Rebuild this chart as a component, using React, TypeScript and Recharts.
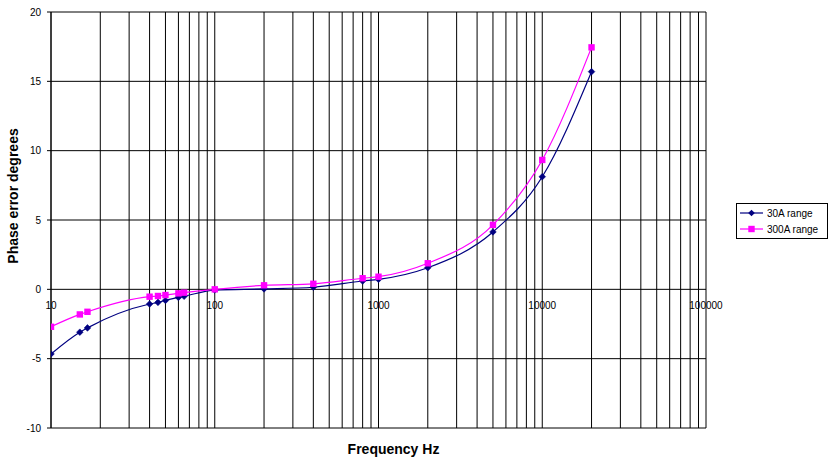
import React from "react";
import { LineChart, Line, XAxis, YAxis, CartesianGrid, ReferenceDot, ReferenceLine } from "recharts";

const freqs = [10, 15, 16.7, 40, 45, 50, 60, 65, 100, 200, 400, 800, 1000, 2000, 5000, 10000, 20000];
const range30A = [-4.66, -3.09, -2.78, -1.06, -0.94, -0.8, -0.58, -0.5, -0.05, 0.03, 0.15, 0.6, 0.72, 1.56, 4.14, 8.12, 15.7];
const range300A = [-2.7, -1.81, -1.62, -0.53, -0.48, -0.41, -0.29, -0.24, 0, 0.29, 0.4, 0.8, 0.91, 1.88, 4.65, 9.33, 17.45];

const gridFreqs = [
  10, 20, 30, 40, 50, 60, 70, 80, 90,
  100, 200, 300, 400, 500, 600, 700, 800, 900,
  1000, 2000, 3000, 4000, 5000, 6000, 7000, 8000, 9000,
  10000, 20000, 30000, 40000, 50000, 60000, 70000, 80000, 90000,
  100000,
];
const decadeLabels = [10, 100, 1000, 10000, 100000];
const yTicks = [-10, -5, 0, 5, 10, 15, 20];

const NAVY = "#000080";
const MAGENTA = "#ff00ff";
const FONT = "Arial, 'Liberation Sans', sans-serif";

const data = freqs.map((f, i) => ({ f, a30: range30A[i], a300: range300A[i] }));

const Diamond = (props: any) => {
  const { cx, cy, fill } = props;
  if (cx == null || cy == null) return null;
  const s = 3.3;
  return <polygon points={`${cx},${cy - s} ${cx + s},${cy} ${cx},${cy + s} ${cx - s},${cy}`} fill={fill} stroke={fill} strokeWidth={0.6} />;
};

const Square = (props: any) => {
  const { cx, cy, fill } = props;
  if (cx == null || cy == null) return null;
  const s = 3.2;
  return <rect x={cx - s} y={cy - s} width={s * 2} height={s * 2} fill={fill} />;
};

const legendItems = [
  { name: "30A range", color: NAVY, kind: "diamond" },
  { name: "300A range", color: MAGENTA, kind: "square" },
];

function LegendBox() {
  return (
    <div
      style={{
        position: "absolute", left: 736, top: 203, width: 92, boxSizing: "border-box",
        border: "1px solid #000", background: "#fff", padding: "1px 0 1px 3px", fontFamily: FONT, fontSize: 10,
      }}
    >
      {legendItems.map((it) => (
        <div key={it.name} style={{ display: "flex", alignItems: "center", height: 16 }}>
          <svg width={24} height={10} style={{ marginRight: 3 }}>
            <line x1={0} y1={5} x2={23} y2={5} stroke={it.color} strokeWidth={1.2} />
            {it.kind === "diamond" ? (
              <polygon points="11.5,1.7 14.8,5 11.5,8.3 8.2,5" fill={it.color} />
            ) : (
              <rect x={8.3} y={1.8} width={6.4} height={6.4} fill={it.color} />
            )}
          </svg>
          <span>{it.name}</span>
        </div>
      ))}
    </div>
  );
}

export default function App() {
  return (
    <div style={{ position: "absolute", left: 0, top: 0, width: 838, height: 464, background: "#fff", fontFamily: FONT }}>
      <LineChart width={838} height={464} data={data} margin={{ top: 12, right: 132, bottom: 0, left: 0 }}>
        <CartesianGrid stroke="#000" strokeWidth={1} vertical={false} />
        <XAxis
          dataKey="f"
          type="number"
          scale="log"
          domain={[10, 100000]}
          ticks={decadeLabels}
          tick={false}
          tickLine={false}
          axisLine={false}
          height={36}
          allowDataOverflow
          label={{ value: "Frequency Hz", position: "center", dx: 15, dy: 3, fontSize: 14, fontWeight: "bold", fill: "#000", fontFamily: FONT }}
        />
        <YAxis
          type="number"
          domain={[-10, 20]}
          ticks={yTicks}
          width={51}
          tickSize={4}
          tickMargin={6}
          tick={{ fontSize: 10, fill: "#000", fontFamily: FONT }}
          tickLine={{ stroke: "#000" }}
          axisLine={{ stroke: "#000" }}
          label={{ value: "Phase error degrees", angle: -90, position: "center", dx: -12, dy: -24, fontSize: 14, fontWeight: "bold", fill: "#000", fontFamily: FONT }}
        />
        {gridFreqs.map((g) => (
          <ReferenceLine key={g} x={g} stroke="#000" strokeWidth={1} ifOverflow="extendDomain" />
        ))}
        {decadeLabels.map((d) => (
          <ReferenceDot
            key={d}
            x={d}
            y={0}
            r={0}
            fill="none"
            stroke="none"
            label={{ value: String(d), position: "bottom", offset: 13, fontSize: 10, fill: "#000", fontFamily: FONT }}
          />
        ))}
        <Line type="monotone" dataKey="a30" name="30A range" stroke={NAVY} fill={NAVY} strokeWidth={1.2} dot={<Diamond />} activeDot={false} isAnimationActive={false} />
        <Line type="monotone" dataKey="a300" name="300A range" stroke={MAGENTA} fill={MAGENTA} strokeWidth={1.2} dot={<Square />} activeDot={false} isAnimationActive={false} />
      </LineChart>
      <LegendBox />
    </div>
  );
}
